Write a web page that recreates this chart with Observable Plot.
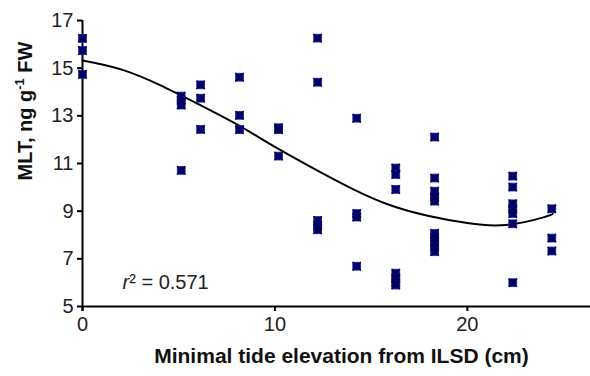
<!DOCTYPE html>
<html><head><meta charset="utf-8">
<script src="https://cdn.jsdelivr.net/npm/d3@7"></script>
<script src="https://cdn.jsdelivr.net/npm/@observablehq/plot@0.6"></script>
<style>
body{margin:0;background:#fff}
#chart svg{font-family:"Liberation Sans",Arial,sans-serif;background:#fff}
</style>
</head><body><div id="chart"></div>
<script>
// Observed samples: minimal tide elevation (cm) and MLT (ng g-1 FW)
const elevation = [
  0, 0, 0,
  5.13, 5.13, 5.13, 5.13,
  6.14, 6.14, 6.14,
  8.16, 8.16, 8.16,
  10.19, 10.19, 10.19,
  12.22, 12.22, 12.22, 12.22, 12.22,
  14.25, 14.25, 14.25, 14.25,
  16.28, 16.28, 16.28, 16.28, 16.28, 16.28, 16.28,
  18.3, 18.3, 18.3, 18.3, 18.3, 18.3, 18.3, 18.3, 18.3, 18.3,
  22.36, 22.36, 22.36, 22.36, 22.36, 22.36, 22.36,
  24.39, 24.39, 24.39
];
const mlt = [
  16.25, 15.74, 14.74,
  13.83, 13.65, 13.45, 10.71,
  14.3, 13.74, 12.43,
  14.62, 13.02, 12.42,
  12.5, 12.42, 11.31,
  16.26, 14.41, 8.61, 8.4, 8.22,
  12.9, 8.9, 8.75, 6.69,
  10.81, 10.54, 9.91, 6.4, 6.2, 6.0, 5.9,
  12.11, 10.39, 9.84, 9.6, 9.42, 8.07, 7.9, 7.7, 7.5, 7.3,
  10.47, 10.01, 9.31, 9.1, 8.9, 8.47, 6.0,
  9.1, 7.87, 7.33
];
// Fitted trend line
const fitX = [0, 2, 4, 6, 8, 10, 12, 14, 16, 18, 20, 22, 24, 24.44];
const fitY = [15.32, 14.95, 14.3, 13.5, 12.65, 11.7, 10.8, 9.95, 9.25, 8.8, 8.5, 8.42, 8.75, 8.9];
const xTicks = [0, 10, 20];
const yTicks = [5, 7, 9, 11, 13, 15, 17];
const xDomain = [0, 26.4];
const yDomain = [5, 17];
const xTitle = "Minimal tide elevation from ILSD (cm)";
const yTitle = "MLT, ng g-1 FW";
const r2Label = "r² = 0.571";

const points = elevation.map((x, i) => ({x, y: mlt[i]}));
const fit = fitX.map((x, i) => ({x, y: fitY[i]}));

const chart = Plot.plot({
  width: 590,
  height: 376,
  marginLeft: 82,
  marginRight: 0,
  marginTop: 20,
  marginBottom: 70,
  style: {fontSize: "20px", fontFamily: "'Liberation Sans', Arial, sans-serif", color: "#222", background: "#fff"},
  x: {domain: xDomain},
  y: {domain: yDomain},
  marks: [
    Plot.axisX({ticks: xTicks, tickSize: 5, tickPadding: 5, label: null, strokeWidth: 2, stroke: "#000", fill: "#222"}),
    Plot.axisY({ticks: yTicks, tickSize: 5, tickPadding: 4, label: null, strokeWidth: 2, stroke: "#000", fill: "#222"}),
    Plot.ruleY([yDomain[0]], {stroke: "#000", strokeWidth: 2}),
    Plot.ruleX([xDomain[0]], {stroke: "#000", strokeWidth: 2, insetBottom: -5}),
    Plot.line(fit, {x: "x", y: "y", curve: "natural", stroke: "#000", strokeWidth: 2}),
    Plot.dot(points, {x: "x", y: "y", symbol: "square", r: 4.4, fill: "#00007a", stroke: "#1c1c9a", strokeWidth: 0.8}),
    Plot.dot(points, {x: "x", y: "y", symbol: "times", r: 3.9, stroke: "#000050", strokeWidth: 1.3}),
    Plot.text([r2Label], {frameAnchor: "bottom-left", dx: 40, dy: -24, lineAnchor: "middle", textAnchor: "start", fontSize: 20, fill: "#222"}),
    Plot.text([xTitle], {frameAnchor: "bottom", dx: 5, dy: 50, lineAnchor: "middle", fontSize: 21, fontWeight: "bold", fill: "#111"}),
    Plot.text([yTitle], {frameAnchor: "left", dx: -57, dy: 17, rotate: -90, lineAnchor: "middle", fontSize: 20, fontWeight: "bold", fill: "#111"})
  ]
});
document.getElementById("chart").append(chart);

// rich text: superscript in y title, italic r in r² label
d3.select(chart).selectAll("text").each(function() {
  const t = this.textContent;
  const sel = d3.select(this);
  if (t === yTitle) {
    sel.text(null);
    sel.append("tspan").text("MLT, ng g");
    sel.append("tspan").attr("dy", -8).attr("font-size", 13).text("-1");
    sel.append("tspan").attr("dy", 8).text(" FW");
  } else if (t === r2Label) {
    sel.text(null);
    sel.append("tspan").attr("font-style", "italic").text("r");
    sel.append("tspan").text("² = 0.571");
  }
});
</script>
</body></html>
